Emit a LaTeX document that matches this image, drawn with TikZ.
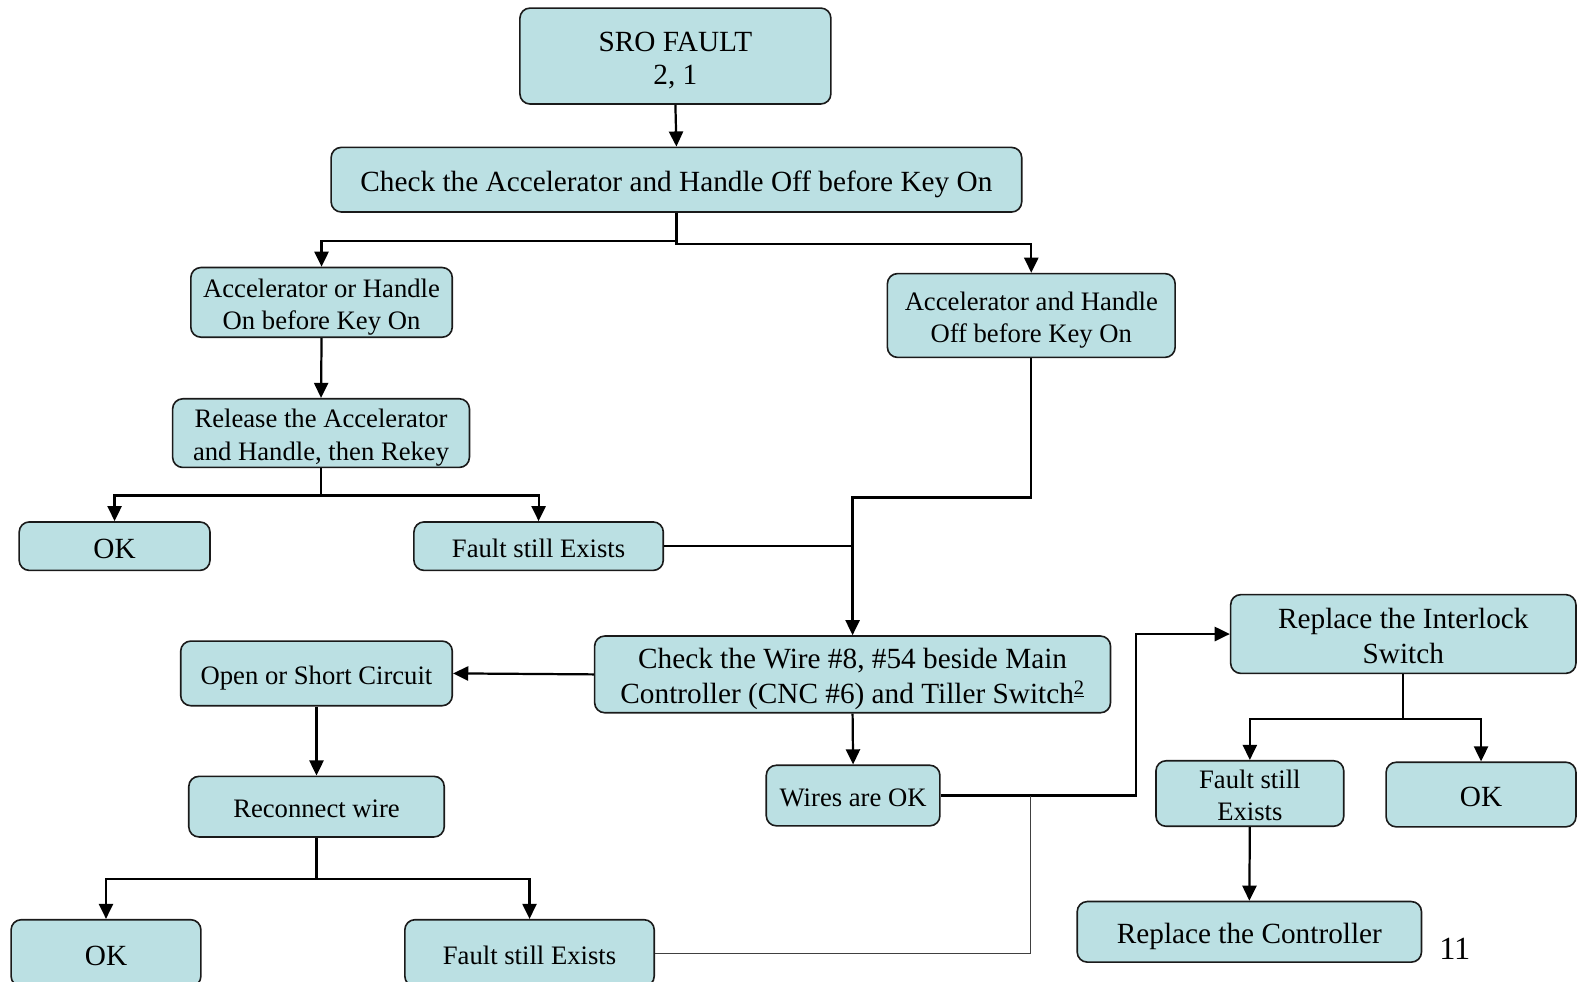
\documentclass[tikz,border=0pt]{standalone}
\usepackage{fontspec}
\setmainfont{Liberation Serif}
\usetikzlibrary{arrows.meta}
\definecolor{boxfill}{HTML}{BBE0E3}
\definecolor{boxline}{HTML}{1A1A1A}
% struts: extra room above the first line sets the text a little low in its box
\newcommand{\topstrut}{\rule[-0.216em]{0pt}{1.257em}}
\newcommand{\bottomstrut}{\rule[-0.216em]{0pt}{1.107em}}
\newcommand{\firststrut}{\rule{0pt}{1.03em}}
\begin{document}
\begin{tikzpicture}[x=1pt,y=-1pt,
  box/.style={draw=boxline,line width=1.6pt,fill=boxfill,rounded corners=10pt,
    inner sep=0pt,align=center,text=black,
    execute at begin node=\topstrut,execute at end node=\bottomstrut},
  big/.style={font=\fontsize{29}{35}\selectfont},
  small/.style={font=\fontsize{26.4}{32}\selectfont},
  link/.style={draw=black,line width=2.2pt},
  arr/.style={link,-{Triangle[length=15pt,width=14pt]}},
  faint/.style={draw=black!75,line width=1pt}]
\useasboundingbox (0,0) rectangle (1568,972);
\clip (0,0) rectangle (1568,972);

% boxes
\node[box,font=\fontsize{29}{33}\selectfont,minimum width=308,minimum height=95] (sro) at (669,55.5)
  {\firststrut SRO FAULT\\2, 1};
\node[box,big,minimum width=684,minimum height=64] (check) at (670,178)
  {Check the Accelerator and Handle Off before Key On};
\node[box,small,minimum width=259,minimum height=69] (accor) at (318.5,299.5)
  {\firststrut Accelerator or Handle\\On before Key On};
\node[box,small,minimum width=285,minimum height=83] (accand) at (1021.5,312.5)
  {\firststrut Accelerator and Handle\\Off before Key On};
\node[box,small,minimum width=294,minimum height=68] (release) at (318,429)
  {\firststrut Release the Accelerator\\and Handle, then Rekey};
\node[box,big,minimum width=189,minimum height=48] (okA) at (113.5,541) {OK};
\node[box,small,minimum width=247,minimum height=48] (faultA) at (533.5,541) {Fault still Exists};
\node[box,big,minimum width=511,minimum height=76] (wire) at (844.5,668)
  {\firststrut Check the Wire \#8, \#54 beside Main\\Controller (CNC \#6) and Tiller Switch\textsuperscript{\underline{2}}};
\node[box,small,minimum width=269,minimum height=64] (open) at (313.5,667) {Open or Short Circuit};
\node[box,small,minimum width=172,minimum height=60] (wok) at (845,788) {Wires are OK};
\node[box,small,minimum width=253,minimum height=60] (recon) at (313.5,799) {Reconnect wire};
\node[box,big,minimum width=188,minimum height=66] (okB) at (105,944) {OK};
\node[box,small,minimum width=247,minimum height=66] (faultB) at (524.5,944) {Fault still Exists};
\node[box,big,minimum width=342,minimum height=78] (inter) at (1390,628)
  {\firststrut Replace the Interlock\\Switch};
\node[box,small,minimum width=186,minimum height=64] (faultC) at (1238,786)
  {\firststrut Fault still\\Exists};
\node[box,big,minimum width=188,minimum height=64] (okC) at (1467,787) {OK};
\node[box,big,minimum width=341,minimum height=60] (ctrl) at (1237.5,923) {Replace the Controller};
\node[font=\fontsize{32}{38}\selectfont,inner sep=0pt] (page) at (1441,940) {11};

% junction points
\coordinate (jog) at (1125,788);
\coordinate (tap) at (1021,788);

% connectors
\draw[arr] (sro.south) -- (check.north);
\draw[arr] (check.south) -- ++(0,28) -| (accor.north);
\draw[arr] (check.south) -- ++(0,31) -| (accand.north);
\draw[arr] (accor.south) -- (release.north);
\draw[arr] (release.south) -- ++(0,27) -| (okA.north);
\draw[arr] (release.south) -- ++(0,27) -| (faultA.north);
\draw[arr] (accand.south) -- ++(0,138) -| (wire.north);
\draw[link] (faultA.east) -- (faultA.east -| wire.north);
\draw[arr] (wire.west) -- (open.east);
\draw[arr] (wire.south) -- (wok.north);
\draw[arr] (wok.east) -- (jog) |- (inter.west);
\draw[faint] (faultB.east) -| (tap);
\draw[arr] (open.south) -- (recon.north);
\draw[arr] (recon.south) -- ++(0,41) -| (okB.north);
\draw[arr] (recon.south) -- ++(0,41) -| (faultB.north);
\draw[arr] (inter.south) -- ++(0,44) -| (faultC.north);
\draw[arr] (inter.south) -- ++(0,44) -| (okC.north);
\draw[arr] (faultC.south) -- (ctrl.north);
\end{tikzpicture}
\end{document}
